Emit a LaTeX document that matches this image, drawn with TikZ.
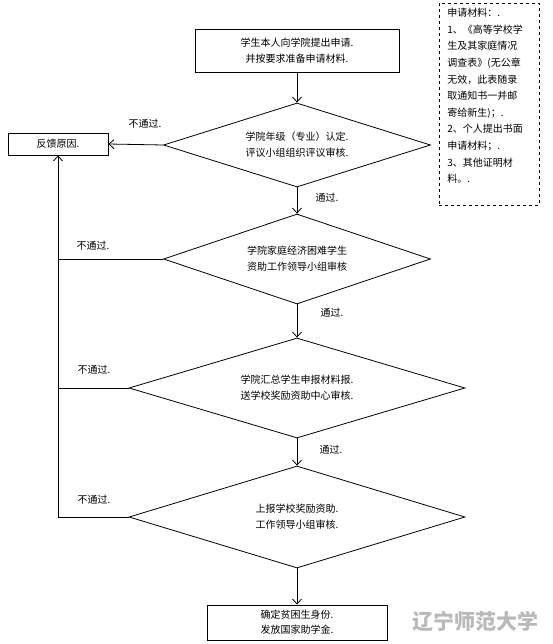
\documentclass[tikz,border=0pt]{standalone}
\usepackage{fontspec}
\setmainfont{Noto Sans CJK SC}
\usetikzlibrary{shapes.geometric,arrows.meta}
\begin{document}
\begin{tikzpicture}[x=1pt,y=-1pt,
  font=\fontsize{10}{16}\selectfont,
  line width=0.8pt,
  procbox/.style={draw, rectangle, align=center, inner sep=0pt},
  dec/.style={draw, diamond, align=center, inner sep=0pt},
  arr/.style={-{Straight Barb[length=5pt,width=9pt]}},
  lbl/.style={inner sep=0pt, font=\fontsize{10}{12}\selectfont}]
\useasboundingbox (0,0) rectangle (553,644);
% main column
\node[procbox, minimum width=204, minimum height=43] (start) at (297,50.5) {学生本人向学院提出申请.\\并按要求准备申请材料.};
\node[dec, shape aspect=3.18, minimum width=267, minimum height=84] (d1) at (297,145) {学院年级（专业）认定.\\评议小组组织评议审核.};
\node[dec, shape aspect=2.97, minimum width=267, minimum height=90] (d2) at (297,259) {学院家庭经济困难学生\\资助工作领导小组审核};
\node[dec, shape aspect=3.36, minimum width=336, minimum height=100] (d3) at (297,388) {学院汇总学生申报材料报.\\送学校奖励资助中心审核.};
\node[dec, shape aspect=3.29, minimum width=336, minimum height=102] (d4) at (297,517) {上报学校奖励资助.\\工作领导小组审核.};
\node[procbox, minimum width=180, minimum height=35, font=\fontsize{10}{15}\selectfont] (end) at (297,622.5) {确定贫困生身份.\\发放国家助学金.};
% feedback
\node[procbox, minimum width=100, minimum height=22] (fb) at (58,144) {反馈原因.};
% materials
\node[draw, dashed, line width=0.6pt, minimum width=100, minimum height=202, inner sep=0pt] (mat) at (489,104) {};
\node[anchor=north west, align=left, inner sep=0pt, font=\fontsize{10}{16.6}\selectfont] (mattext) at (447,8) {申请材料：.\\1、《高等学校学\\生及其家庭情况\\调查表》(无公章\\无效，此表随录\\取通知书一并邮\\寄给新生)；.\\2、个人提出书面\\申请材料；.\\3、其他证明材\\料。.};
% connectors
\draw[arr] (start) -- (d1);
\draw[arr] (d1) -- (d2);
\draw[arr] (d2) -- (d3);
\draw[arr] (d3) -- (d4);
\draw[arr] (d4) -- (end);
\draw[arr] (d1.west) -- (fb.east);
\draw[arr] (d4.west) -| (fb.south);
\draw (d2.west) -- (fb.south |- d2.west);
\draw (d3.west) -- (fb.south |- d3.west);
% labels
\node[lbl] (n1) at (145,124) {不通过.};
\node[lbl] (n2) at (93,246) {不通过.};
\node[lbl] (n3) at (94,370) {不通过.};
\node[lbl] (n4) at (94,500) {不通过.};
\node[lbl] (p1) at (327,198) {通过.};
\node[lbl] (p2) at (332,313) {通过.};
\node[lbl] (p3) at (331,450) {通过.};
% watermark
\node[inner sep=0pt, text=gray!55, font=\fontsize{21}{21}\selectfont\bfseries] (logo) at (475,622) {辽宁师范大学};
\end{tikzpicture}
\end{document}
